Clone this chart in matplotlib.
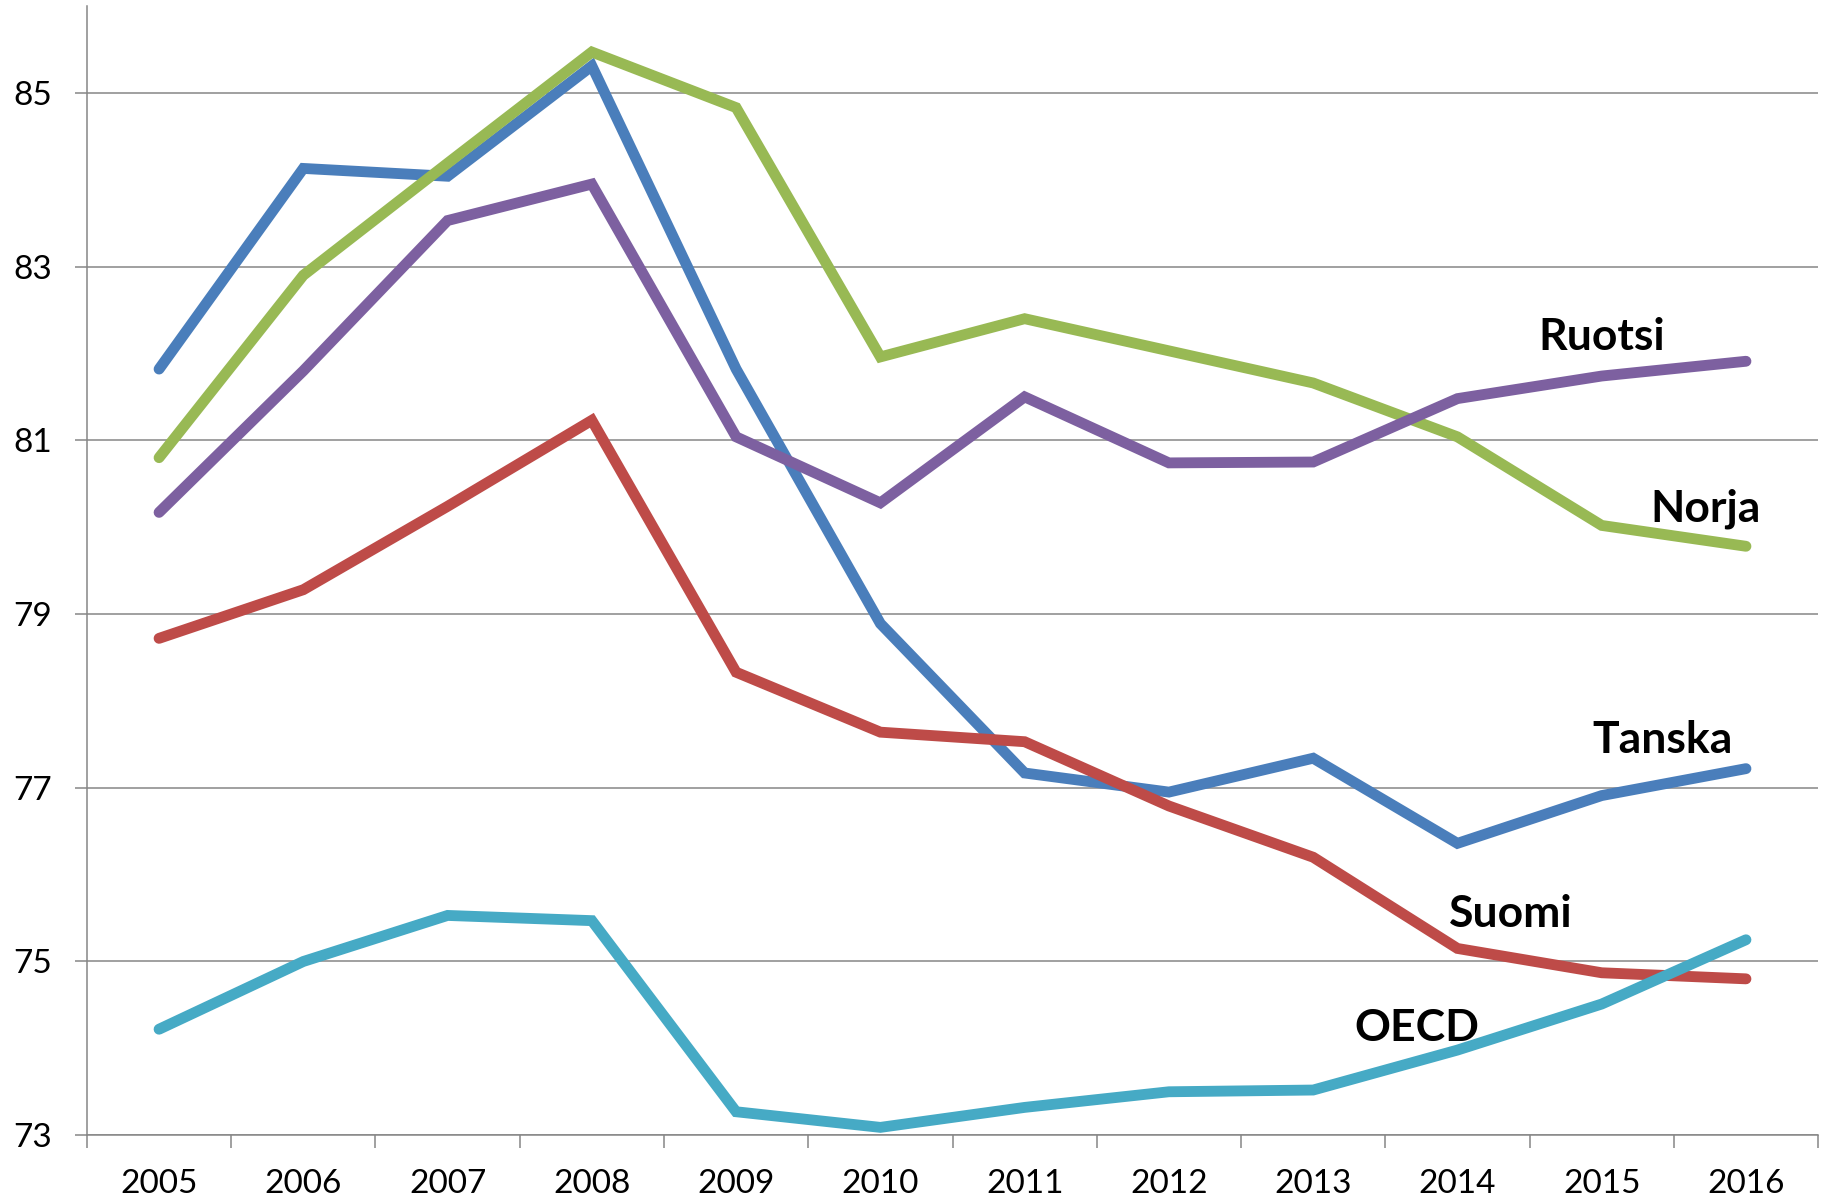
import matplotlib.pyplot as plt

years = [2005, 2006, 2007, 2008, 2009, 2010, 2011, 2012, 2013, 2014, 2015, 2016]
tanska = [81.82, 84.13, 84.04, 85.31, 81.82, 78.89, 77.17, 76.95, 77.34, 76.36, 76.91, 77.22]
suomi = [78.72, 79.28, 80.24, 81.23, 78.33, 77.64, 77.53, 76.79, 76.20, 75.15, 74.87, 74.80]
norja = [80.80, 82.90, 84.19, 85.47, 84.83, 81.96, 82.40, 82.03, 81.66, 81.04, 80.02, 79.78]
ruotsi = [80.17, 81.80, 83.53, 83.95, 81.04, 80.28, 81.50, 80.74, 80.75, 81.48, 81.74, 81.91]
oecd = [74.22, 75.00, 75.53, 75.47, 73.27, 73.09, 73.32, 73.50, 73.52, 73.98, 74.51, 75.25]

series = [("Tanska", tanska, "#4A7EBB"), ("Suomi", suomi, "#BE4B48"),
          ("Norja", norja, "#98B954"), ("Ruotsi", ruotsi, "#7D60A0"),
          ("OECD", oecd, "#46AAC5")]

# label anchor positions (data coords)
label_pos = {"Ruotsi": (2015.00, 82.04), "Norja": (2015.72, 80.06),
             "Tanska": (2015.42, 77.40), "Suomi": (2014.37, 75.40),
             "OECD": (2013.72, 74.08)}

plt.rcParams['font.family'] = ['Lato', 'DejaVu Sans']

fig = plt.figure(figsize=(18.3, 12), dpi=100)
ax = fig.add_axes([0.0475, 0.054, 0.946, 0.941])

grid_col = "#868686"
for v in range(73, 86, 2):
    ax.axhline(v, color=grid_col, lw=1.1, zorder=1)

for name, vals, col in series:
    ax.plot(years, vals, color=col, lw=7.8, solid_capstyle='round',
            solid_joinstyle='miter', zorder=3)

for name, (x, y) in label_pos.items():
    ax.text(x, y, name, fontsize=32, fontweight='bold', ha='center',
            va='baseline', color='black', zorder=5)

ax.set_xlim(2004.5, 2016.5)
ax.set_ylim(73, 86)
ax.set_yticks(range(73, 86, 2))
ax.set_xticks(years)
ax.set_xticklabels([str(y) for y in years])
ax.set_xticks([y + 0.5 for y in [2004] + years], minor=True)

ax.tick_params(axis='x', which='major', length=0, pad=24, labelsize=24)
ax.tick_params(axis='x', which='minor', length=9, width=1.1, color=grid_col)
ax.tick_params(axis='y', length=9, width=1.1, color=grid_col, pad=16, labelsize=24)

for s in ['top', 'right']:
    ax.spines[s].set_visible(False)
for s in ['left', 'bottom']:
    ax.spines[s].set_color(grid_col)
    ax.spines[s].set_linewidth(1.1)

fig.savefig("out.png", dpi=100)
